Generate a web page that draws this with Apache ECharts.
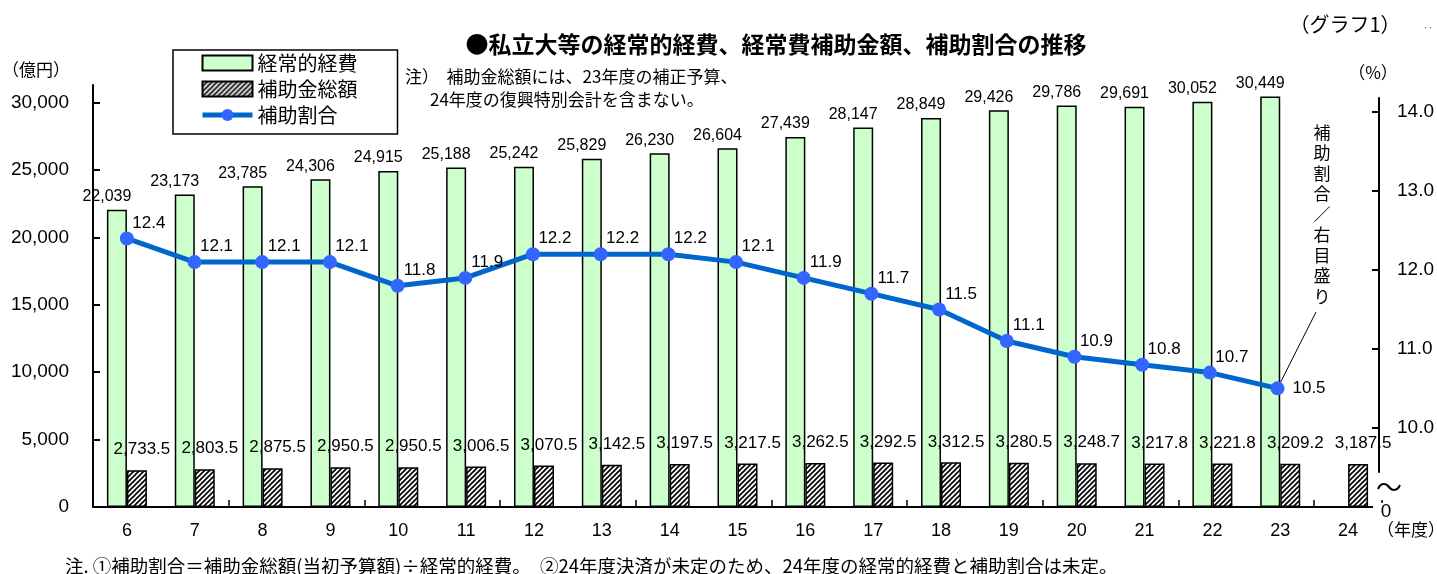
<!DOCTYPE html>
<html>
<head>
<meta charset="utf-8">
<title>私立大等の経常的経費、経常費補助金額、補助割合の推移</title>
<script src="https://cdn.jsdelivr.net/npm/echarts@6/dist/echarts.min.js"></script>
<style>
  html, body { margin: 0; padding: 0; background: #fff; }
  #chart { width: 1437px; height: 574px; }
</style>
</head>
<body>
<div id="chart"></div>
<script>
// Fiscal years (Heisei)
const years = ['6', '7', '8', '9', '10', '11', '12', '13', '14', '15', '16', '17', '18', '19', '20', '21', '22', '23', '24'];
// 経常的経費 (億円) — FY24 not yet settled
const operatingCost = [22039, 23173, 23785, 24306, 24915, 25188, 25242, 25829, 26230, 26604, 27439, 28147, 28849, 29426, 29786, 29691, 30052, 30449, null];
// 補助金総額 (億円)
const subsidyTotal = [2733.5, 2803.5, 2875.5, 2950.5, 2950.5, 3006.5, 3070.5, 3142.5, 3197.5, 3217.5, 3262.5, 3292.5, 3312.5, 3280.5, 3248.7, 3217.8, 3221.8, 3209.2, 3187.5];
// 補助割合 (%) — FY24 not yet settled
const subsidyRatio = [12.4, 12.1, 12.1, 12.1, 11.8, 11.9, 12.2, 12.2, 12.2, 12.1, 11.9, 11.7, 11.5, 11.1, 10.9, 10.8, 10.7, 10.5, null];
// Axis tick values
const leftTicks = [0, 5000, 10000, 15000, 20000, 25000, 30000];
const rightTicks = [10, 11, 12, 13, 14];

const NUM_FONT = "'Liberation Sans', Arial, 'Noto Sans CJK JP', sans-serif";
const NARROW_FONT = "'Liberation Sans Narrow', 'Liberation Sans', Arial, sans-serif";
const JP_FONT = "'Noto Sans CJK JP', 'Liberation Sans', sans-serif";

function withCommas(n, digits) {
  const s = Number(n).toFixed(digits);
  const parts = s.split('.');
  const intPart = parts[0].replace(/\B(?=(\d{3})+(?!\d))/g, ',');
  return parts.length > 1 ? intPart + '.' + parts[1] : intPart;
}

// Diagonal hatch fill for the subsidy bars
function makeHatch() {
  const size = 5;
  const c = document.createElement('canvas');
  c.width = size; c.height = size;
  const g = c.getContext('2d');
  g.fillStyle = '#fff';
  g.fillRect(0, 0, size, size);
  g.strokeStyle = '#000';
  g.lineWidth = 1.7;
  for (const off of [-size, 0, size]) {
    g.beginPath();
    g.moveTo(off - 1, size + 1);
    g.lineTo(off + size + 1, -1);
    g.stroke();
  }
  return c;
}
const hatch = { image: makeHatch(), repeat: 'repeat' };

// Index of the last year with a ratio value
let lastRatioIdx = 0;
subsidyRatio.forEach((v, i) => { if (v != null) lastRatioIdx = i; });

const ratioData = subsidyRatio.map((v, i) => {
  if (v == null) return '-';
  if (i === lastRatioIdx) {
    return { value: v, label: { position: 'right', distance: 8, offset: [0, 0] } };
  }
  return v;
});

const chart = echarts.init(document.getElementById('chart'), null, { renderer: 'canvas' });

const option = {
  animation: false,
  backgroundColor: '#fff',
  textStyle: { fontFamily: NUM_FONT, color: '#000' },
  grid: [
    { left: 93, right: 55, top: 85, bottom: 67 },
    { left: 93, right: 55, top: 98, bottom: 102 }
  ],
  legend: {
    data: [
      { name: '経常的経費', icon: 'rect' },
      { name: '補助金総額', icon: 'rect' },
      { name: '補助割合', lineStyle: { width: 5, color: '#0066cc' }, itemStyle: { color: '#3366ff' } }
    ],
    orient: 'vertical',
    left: 173,
    top: 50,
    padding: [3, 40, 9, 27],
    itemGap: 6,
    itemWidth: 50,
    itemHeight: 15,
    itemTextGap: 4,
    borderColor: '#000',
    borderWidth: 1.5,
    textStyle: { fontFamily: JP_FONT, fontSize: 20, color: '#000' }
  },
  xAxis: [
    {
      type: 'category',
      gridIndex: 0,
      data: years,
      boundaryGap: true,
      axisLine: { lineStyle: { color: '#000', width: 2 } },
      axisTick: { show: true, inside: true, length: 7, interval: 1, lineStyle: { color: '#000', width: 1.5 } },
      axisLabel: { interval: 0, margin: 15, fontSize: 18, fontFamily: NARROW_FONT, color: '#000' },
      splitLine: { show: false }
    },
    {
      type: 'category',
      gridIndex: 1,
      data: years,
      boundaryGap: true,
      show: false
    }
  ],
  yAxis: [
    {
      type: 'value',
      gridIndex: 0,
      min: 0,
      max: 31300,
      axisLine: { show: true, lineStyle: { color: '#000', width: 2 } },
      axisTick: { show: true, inside: true, length: 7, customValues: leftTicks, lineStyle: { color: '#000', width: 2 } },
      axisLabel: {
        customValues: leftTicks,
        margin: 24,
        fontSize: 19,
        color: '#000',
        formatter: v => withCommas(v, 0)
      },
      splitLine: { show: false }
    },
    {
      type: 'value',
      gridIndex: 1,
      position: 'right',
      min: 9.44,
      max: 14.18,
      axisLine: { show: true, lineStyle: { color: '#000', width: 2 } },
      axisTick: { show: true, inside: true, length: 7, customValues: rightTicks, lineStyle: { color: '#000', width: 2 } },
      axisLabel: {
        customValues: rightTicks,
        margin: 18,
        fontSize: 19,
        color: '#000',
        formatter: v => v.toFixed(1)
      },
      splitLine: { show: false }
    }
  ],
  series: [
    {
      name: '経常的経費',
      type: 'bar',
      xAxisIndex: 0,
      yAxisIndex: 0,
      data: operatingCost.map(v => (v == null ? '-' : v)),
      barWidth: 20,
      barGap: '0%',
      itemStyle: { color: '#ccffcc', borderColor: '#000', borderWidth: 1.5 },
      label: {
        show: true,
        position: 'top',
        distance: 5,
        offset: [-10, 0],
        fontSize: 16,
        color: '#000',
        formatter: p => withCommas(p.value, 0)
      }
    },
    {
      name: '補助金総額',
      type: 'bar',
      xAxisIndex: 0,
      yAxisIndex: 0,
      data: subsidyTotal,
      barWidth: 20,
      barGap: '0%',
      itemStyle: { color: hatch, borderColor: '#000', borderWidth: 1.5 },
      label: {
        show: true,
        position: 'top',
        distance: 12,
        offset: [5, 0],
        fontSize: 17,
        color: '#000',
        formatter: p => withCommas(p.value, 1)
      }
    },
    {
      name: '補助割合',
      type: 'line',
      xAxisIndex: 1,
      yAxisIndex: 1,
      data: ratioData,
      symbol: 'circle',
      symbolSize: 14,
      lineStyle: { color: '#0066cc', width: 5 },
      itemStyle: { color: '#3366ff' },
      label: {
        show: true,
        position: 'top',
        distance: 0,
        offset: [22, 0],
        fontSize: 17,
        color: '#000',
        formatter: p => Number(p.value).toFixed(1)
      },
      markLine: {
        silent: true,
        animation: false,
        symbol: ['none', 'none'],
        label: { show: false },
        lineStyle: { color: '#000', width: 1, type: 'solid' },
        emphasis: { disabled: true },
        data: [[
          { coord: [lastRatioIdx, subsidyRatio[lastRatioIdx]] },
          { x: 1316, y: 312 }
        ]]
      },
      z: 5
    }
  ],
  graphic: [
    {
      type: 'text', x: 776, y: 44, z: 10,
      style: {
        text: '●私立大等の経常的経費、経常費補助金額、補助割合の推移',
        font: "bold 23px 'Noto Sans CJK JP', sans-serif",
        fill: '#000', align: 'center', verticalAlign: 'middle'
      }
    },
    {
      type: 'text', x: 1345, y: 24, z: 10,
      style: { text: '（グラフ1）', font: "20px 'Noto Sans CJK JP', sans-serif", fill: '#000', align: 'center', verticalAlign: 'middle' }
    },
    {
      type: 'text', x: 1428, y: 28, z: 10,
      style: { text: '‥', font: "10px 'Noto Sans CJK JP', sans-serif", fill: '#555', align: 'center', verticalAlign: 'middle' }
    },
    {
      type: 'text', x: 36, y: 70, z: 10,
      style: { text: '（億円）', font: "17px 'Noto Sans CJK JP', sans-serif", fill: '#000', align: 'center', verticalAlign: 'middle' }
    },
    {
      type: 'text', x: 1373, y: 73, z: 10,
      style: { text: '（%）', font: "17px 'Noto Sans CJK JP', sans-serif", fill: '#000', align: 'center', verticalAlign: 'middle' }
    },
    {
      type: 'text', x: 405, y: 77, z: 10,
      style: { text: '注）  補助金総額には、23年度の補正予算、', font: "17px 'Noto Sans CJK JP', sans-serif", fill: '#000', align: 'left', verticalAlign: 'middle' }
    },
    {
      type: 'text', x: 430, y: 100, z: 10,
      style: { text: '24年度の復興特別会計を含まない。', font: "17px 'Noto Sans CJK JP', sans-serif", fill: '#000', align: 'left', verticalAlign: 'middle' }
    },
    {
      type: 'text', x: 1322, y: 122, z: 10,
      style: {
        text: ['補', '助', '割', '合', '／', '右', '目', '盛', 'り'].join('\n'),
        font: "17px 'Noto Sans CJK JP', sans-serif",
        lineHeight: 20.5,
        fill: '#000', align: 'center', verticalAlign: 'top'
      }
    },
    {
      type: 'rect', z: 9,
      shape: { x: 1373, y: 503, width: 12, height: 8 },
      style: { fill: '#fff' }
    },
    {
      type: 'text', x: 1389, y: 487, z: 10,
      style: { text: '〜', font: "26px 'Noto Sans CJK JP', sans-serif", fill: '#000', align: 'center', verticalAlign: 'middle' }
    },
    {
      type: 'text', x: 1386, y: 512, z: 10,
      style: { text: '0', font: "19px 'Liberation Sans', Arial, sans-serif", fill: '#000', align: 'center', verticalAlign: 'middle' }
    },
    {
      type: 'text', x: 1377, y: 530, z: 10,
      style: { text: '（年度）', font: "17px 'Noto Sans CJK JP', sans-serif", fill: '#000', align: 'left', verticalAlign: 'middle' }
    },
    {
      type: 'text', x: 65, y: 566, z: 10,
      style: {
        text: '注. ①補助割合＝補助金総額(当初予算額)÷経常的経費。　②24年度決済が未定のため、24年度の経常的経費と補助割合は未定。',
        font: "18.5px 'Noto Sans CJK JP', sans-serif",
        fill: '#000', align: 'left', verticalAlign: 'middle'
      }
    }
  ]
};

chart.setOption(option);
</script>
</body>
</html>
